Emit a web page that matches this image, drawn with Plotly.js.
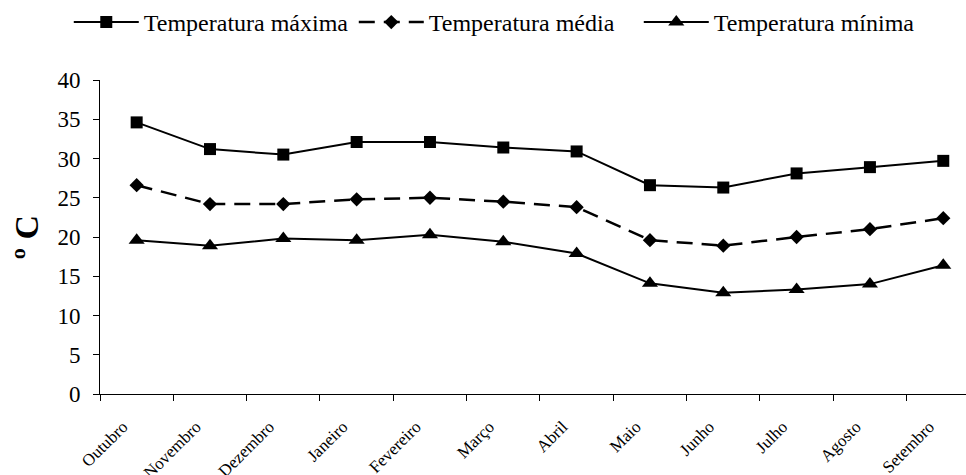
<!DOCTYPE html>
<html>
<head>
<meta charset="utf-8">
<script src="https://cdn.plot.ly/plotly-3.0.1.min.js"></script>
<style>html,body{margin:0;padding:0;background:#fff;}#chart{width:966px;height:475px;}</style>
</head>
<body>
<div id="chart"></div>
<script>
const months = ["Outubro","Novembro","Dezembro","Janeiro","Fevereiro","Março","Abril","Maio","Junho","Julho","Agosto","Setembro"];
const tempMax = [34.6, 31.2, 30.5, 32.1, 32.1, 31.4, 30.9, 26.6, 26.3, 28.1, 28.9, 29.7];
const tempMed = [26.6, 24.2, 24.2, 24.8, 25.0, 24.5, 23.8, 19.6, 18.9, 20.0, 21.0, 22.4];
const tempMin = [19.6, 18.9, 19.8, 19.6, 20.3, 19.4, 17.9, 14.1, 12.9, 13.3, 14.0, 16.4];
const yTicks = [0,5,10,15,20,25,30,35,40];

const font = "Liberation Serif";
const traces = [
  {x: months, y: tempMax, name: "Temperatura máxima", mode: "lines+markers", type: "scatter",
   line: {color: "#000", width: 2}, marker: {symbol: "square", size: 12, color: "#000"}},
  {x: months, y: tempMed, name: "Temperatura média", mode: "lines+markers", type: "scatter",
   line: {color: "#000", width: 2.5, dash: "16px,9px"}, marker: {symbol: "diamond", size: 11, color: "#000"}},
  {x: months, y: tempMin, name: "Temperatura mínima", mode: "lines+markers", type: "scatter",
   line: {color: "#000", width: 2}, marker: {symbol: "triangle-up", size: 14, color: "#000"}}
];
const layout = {
  width: 966, height: 475,
  margin: {l: 100, r: 0, t: 80, b: 81},
  paper_bgcolor: "#fff", plot_bgcolor: "#fff",
  font: {family: font, color: "#000", size: 23},
  showlegend: true,
  legend: {orientation: "h", xref: "container", yref: "container", x: 0.0712, y: 1.0, xanchor: "left", yanchor: "top",
           font: {family: font, size: 24, color: "#000"}, itemwidth: 65, tracegroupgap: 0, bgcolor: "rgba(0,0,0,0)",
           entrywidthmode: "pixels", entrywidth: 205},
  xaxis: {type: "category", range: [-0.5, 11.31], tickson: "boundaries", ticks: "outside", ticklen: 6, tickwidth: 1,
          tickcolor: "#000", showline: true, linecolor: "#000", linewidth: 1, showgrid: false, zeroline: false,
          tickangle: -45, ticklabelstandoff: 15, ticklabelshift: -14,
          tickfont: {family: font, size: 17, color: "#000"}},
  yaxis: {range: [0, 40], tickvals: yTicks, ticktext: yTicks.map(String), ticks: "outside", ticklen: 6, tickwidth: 1,
          tickcolor: "#000", showline: true, linecolor: "#000", linewidth: 1, showgrid: false, zeroline: false,
          ticklabelstandoff: 8,
          tickfont: {family: font, size: 23, color: "#000"},
          title: {text: "º C", font: {family: font, size: 34, weight: "bold", color: "#000"}, standoff: 8}}
};
Plotly.newPlot("chart", traces, layout, {displayModeBar: false, staticPlot: true});
</script>
</body>
</html>
